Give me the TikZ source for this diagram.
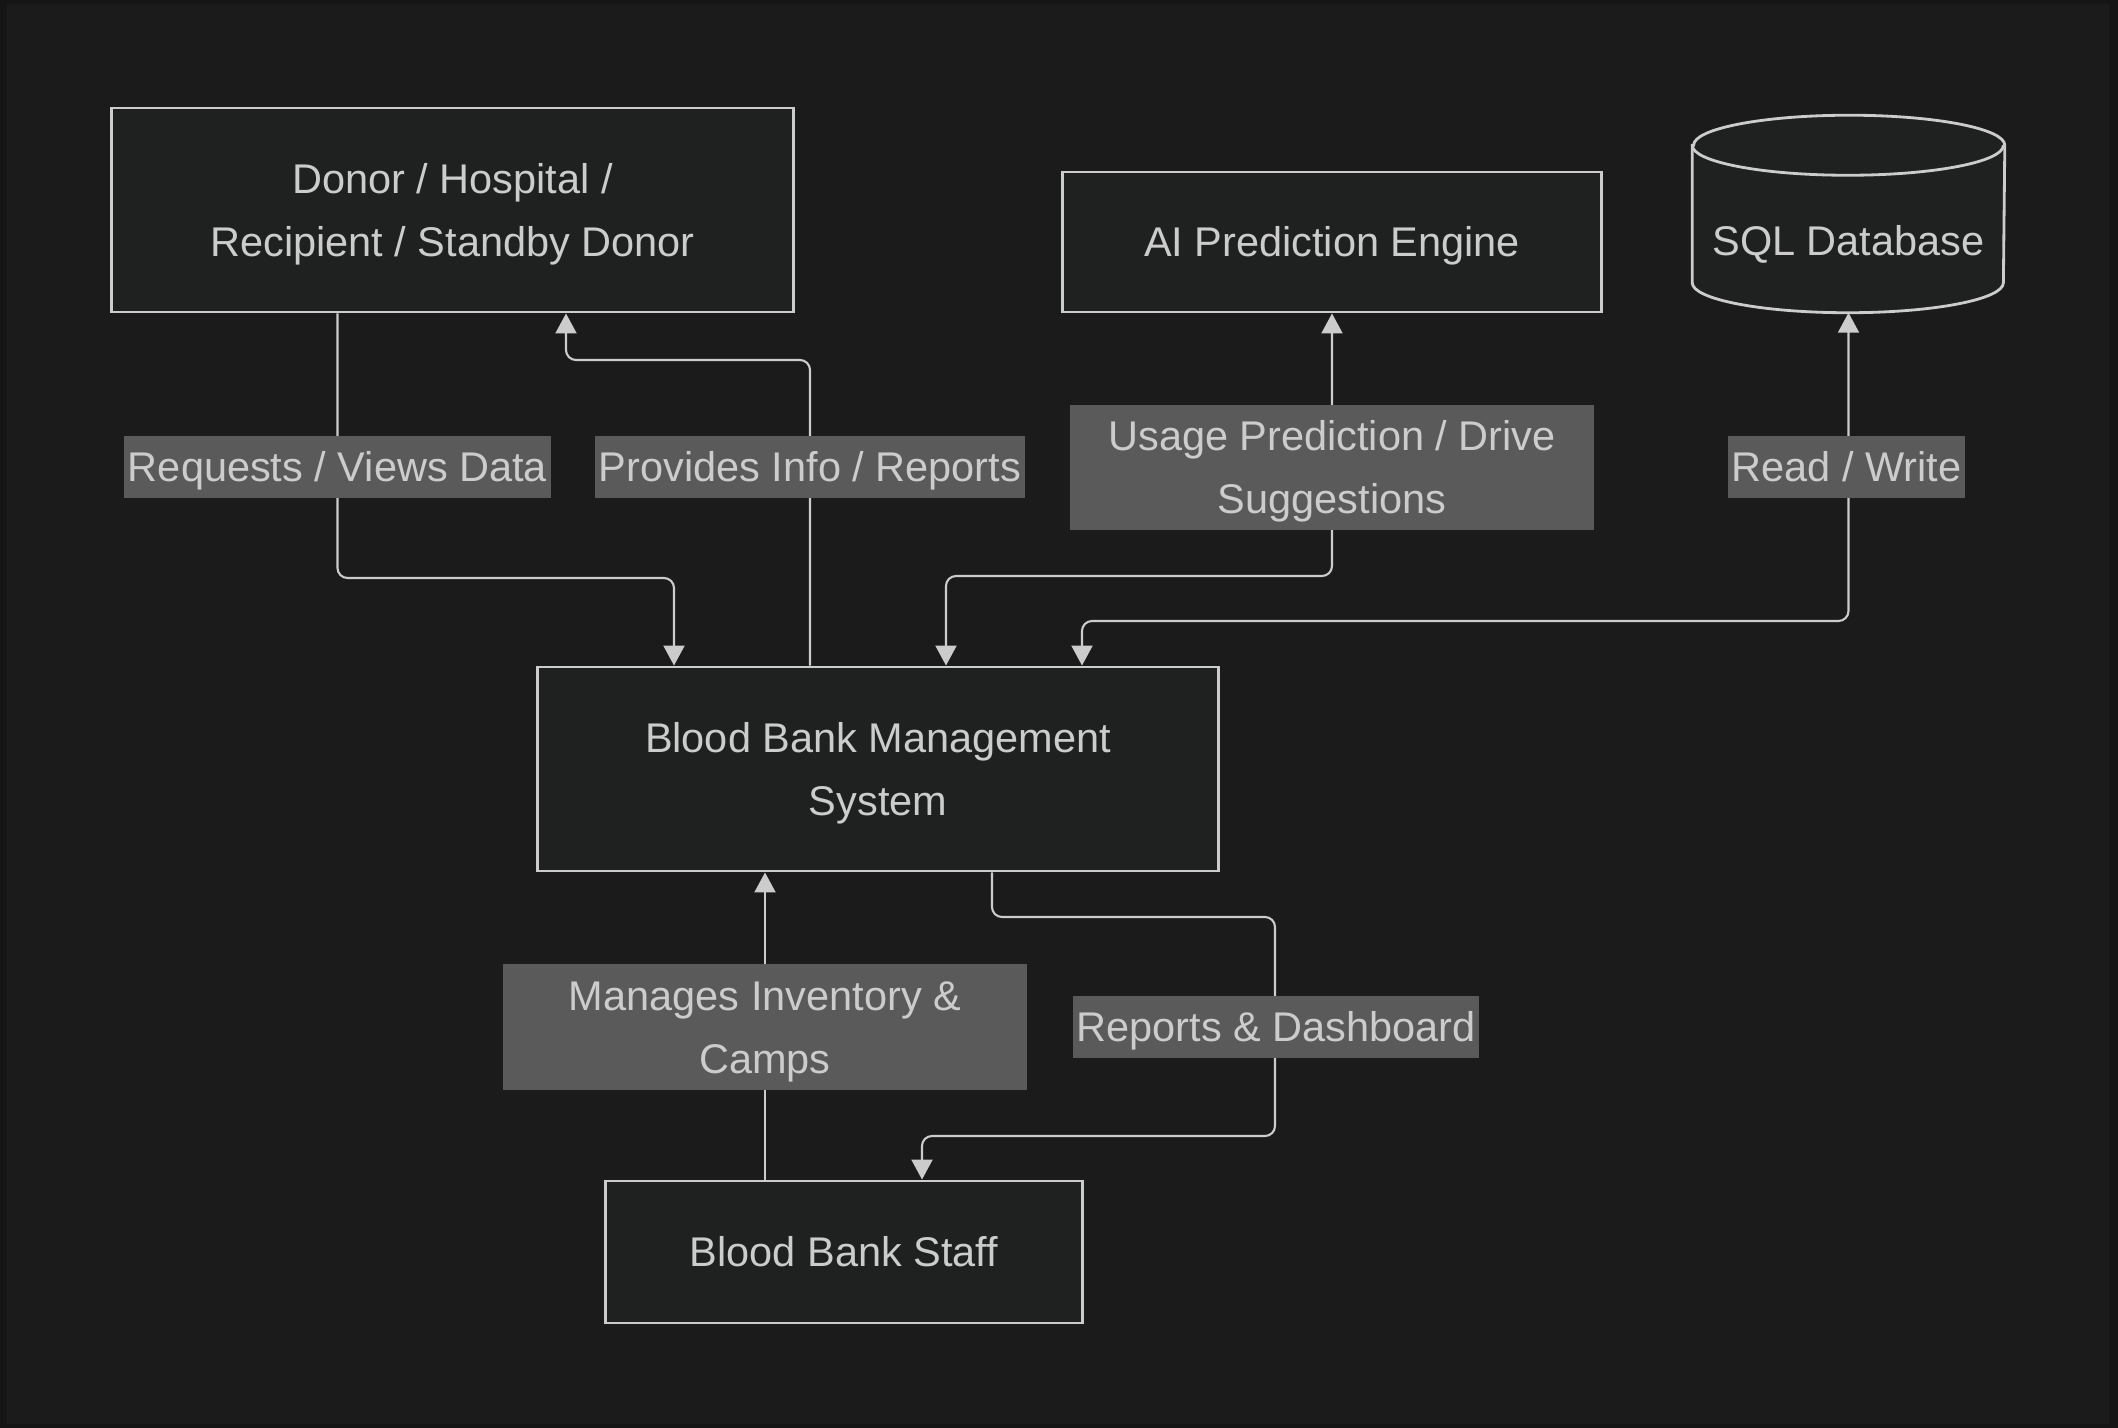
\documentclass[tikz,border=0pt]{standalone}
\usepackage{fontspec}
\setmainfont{Liberation Sans}
\usetikzlibrary{arrows.meta}
\definecolor{pageedge}{HTML}{151515}
\definecolor{pagebg}{HTML}{1B1B1B}
\definecolor{boxfill}{HTML}{1F2020}
\definecolor{inkgray}{HTML}{CCCCCC}
\definecolor{tagfill}{HTML}{5A5A5A}
\newcommand\diafont{\fontsize{11.8}{17.9}\selectfont}
\newcommand\st{\rule[-3.6pt]{0pt}{15.6pt}}
\pgfdeclarelayer{back}
\pgfdeclarelayer{edges}
\pgfsetlayers{back,edges,main}
\tikzset{
  box/.style={draw=inkgray, line width=0.8pt, fill=boxfill, text=inkgray,
    align=center, font=\diafont, inner sep=0pt},
  drum/.style={draw=inkgray, line width=0.8pt, fill=boxfill},
  tag/.style={fill=tagfill, text=inkgray, align=center, font=\diafont,
    inner xsep=1pt, inner ysep=0pt, minimum height=0.62cm},
  link/.style={draw=inkgray, line width=0.6pt, rounded corners=0.1cm,
    -{Triangle[length=0.2cm,width=0.21cm]}},
  twoway/.style={link, {Triangle[length=0.2cm,width=0.21cm]}-{Triangle[length=0.2cm,width=0.21cm]}}
}
\begin{document}
\begin{tikzpicture}[x=0.01cm, y=-0.01cm]
\begin{pgfonlayer}{back}
\fill[pageedge] (0,0) rectangle (2118,1428);
\fill[pagebg] (7,4) rectangle (2109,1424);
\end{pgfonlayer}

\node[box, minimum width=6.81cm, minimum height=2.04cm] (donor) at (452.5,210) {\st Donor / Hospital /\\\st Recipient / Standby Donor};
\node[box, minimum width=5.38cm, minimum height=1.40cm] (ai) at (1332,242) {\st AI Prediction Engine};
\node[text=inkgray, font=\diafont, minimum width=3.11cm, minimum height=1.43cm, inner sep=0pt] (db) at (1848.5,240.5) {\st SQL Database};
\node[box, minimum width=6.80cm, minimum height=2.04cm] (bbms) at (878,769) {\st Blood Bank Management\\\st System};
\node[box, minimum width=4.76cm, minimum height=1.42cm] (staff) at (844,1252) {\st Blood Bank Staff};

\begin{pgfonlayer}{back}
\draw[drum] ([yshift=0.23cm]db.north west) -- ([yshift=0.3cm]db.south west)
  arc[start angle=180, end angle=360, x radius=1.555cm, y radius=0.3cm]
  -- ([yshift=0.23cm]db.north east)
  arc[start angle=0, end angle=180, x radius=1.555cm, y radius=0.3cm] -- cycle;
\draw[drum, fill=none] ([yshift=0.23cm]db.north west)
  arc[start angle=180, end angle=360, x radius=1.555cm, y radius=0.3cm];
\end{pgfonlayer}

\node[tag] (lreq) at (337.5,467) {\st Requests / Views Data};
\node[tag] (lprov) at (810,467) {\st Provides Info / Reports};
\node[tag, minimum width=5.24cm, minimum height=1.25cm] (lusage) at (1332,467.5) {\st Usage Prediction / Drive\\\st Suggestions};
\node[tag] (ldb) at (1846.5,467) {\st Read / Write};
\node[tag, minimum width=5.24cm, minimum height=1.26cm] (lman) at (765,1027) {\st Manages Inventory \&\\\st Camps};
\node[tag] (lrep) at (1276,1027) {\st Reports \& Dashboard};

\coordinate (reqbend) at (674,578);
\coordinate (provbend) at (566,360);
\coordinate (usebend) at (946,576);
\coordinate (dbbend) at (1082,621);
\coordinate (reptop) at (992,917);
\coordinate (repmid) at (1275,1136);
\coordinate (repend) at (922,1136);

\begin{pgfonlayer}{edges}
\draw[link] (donor.south -| lreq) |- (reqbend) -- (bbms.north -| reqbend);
\draw[link] (bbms.north -| lprov) |- (provbend) -- (donor.south -| provbend);
\draw[twoway] (ai.south) |- (usebend) -- (bbms.north -| usebend);
\draw[twoway] (db.south) |- (dbbend) -- (bbms.north -| dbbend);
\draw[link] (staff.north -| lman) -- (bbms.south -| lman);
\draw[link] (bbms.south -| reptop) -- (reptop) -| (repmid) -| (staff.north -| repend);
\end{pgfonlayer}
\end{tikzpicture}
\end{document}
